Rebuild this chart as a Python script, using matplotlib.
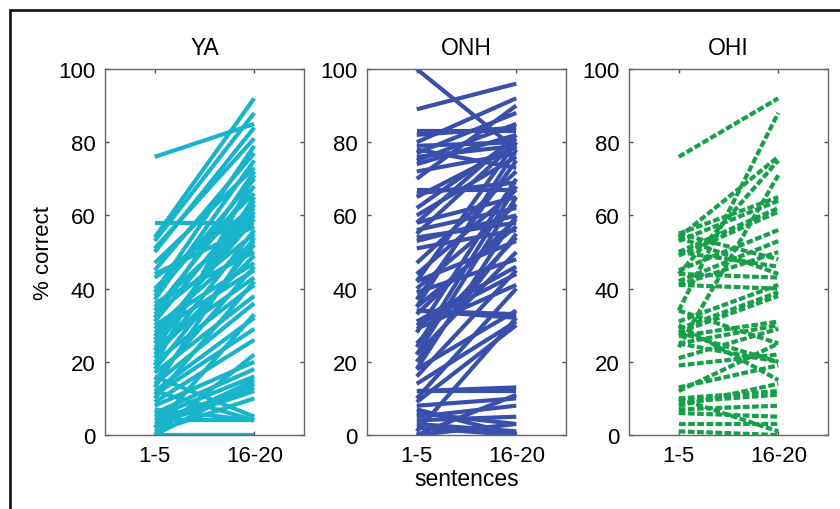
import matplotlib.pyplot as plt
from matplotlib.patches import Rectangle

plt.rcParams['font.family'] = ['Liberation Sans', 'DejaVu Sans']

groups = ['YA', 'ONH', 'OHI']
xticklabels = ['1-5', '16-20']

# % correct for sentences 1-5 (first) and 16-20 (last), one pair per listener
ya_first = [76, 58, 54, 53, 51, 50, 47, 45, 44, 43, 40, 38, 37, 36, 35, 34, 33, 31,
            30, 29, 28, 27, 25, 24, 22, 21, 20, 18, 17, 15, 14, 12, 11, 10, 9, 8,
            7, 6, 5, 4, 4, 3, 2, 2, 1, 0, 0, 0, 12, 16, 19, 26, 39, 32, 23, 13]
ya_last = [85, 58, 92, 88, 81, 84, 73, 77, 57, 62, 66, 70, 75, 50, 60, 68, 55, 64,
           47, 53, 45, 59, 63, 43, 49, 56, 41, 52, 38, 46, 36, 32, 29, 42, 26, 20,
           4, 18, 16, 13, 4, 12, 15, 33, 10, 0, 22, 14, 4, 5, 71, 61, 79, 72, 65, 54]

onh_first = [100, 89, 83, 82, 80, 79, 78, 77, 76, 75, 74, 72, 70, 67, 66, 62, 60, 58,
             56, 55, 54, 53, 51, 47, 44, 42, 40, 39, 35, 34, 34, 33, 31, 30, 29, 25,
             22, 20, 18, 14, 12, 12, 10, 9, 8, 6, 5, 4, 3, 2, 1, 0, 0, 7,
             22, 28, 35, 42, 18, 24, 58, 65, 37, 16]
onh_last = [78, 96, 83, 84, 92, 80, 73, 88, 79, 85, 82, 77, 90, 67, 69, 81, 76, 65,
            62, 80, 58, 60, 56, 72, 67, 53, 63, 48, 57, 33, 32, 59, 46, 44, 41, 54,
            50, 55, 34, 31, 13, 12, 40, 30, 10, 3, 8, 5, 1, 0, 32, 3, 11, 0,
            65, 70, 78, 80, 60, 68, 82, 79, 75, 45]

ohi_first = [76, 34, 54, 44, 24, 55, 53, 50, 49, 45, 42, 41, 55, 54, 50, 44, 41, 31,
             29, 28, 27, 25, 21, 19, 34, 28, 13, 12, 30, 10, 9, 8, 7, 6, 3, 1, 10, 25]
ohi_last = [92, 88, 76, 75, 71, 65, 64, 62, 61, 56, 53, 50, 48, 44, 46, 43, 40, 41,
            39, 38, 31, 30, 29, 22, 25, 20, 19, 25, 15, 12, 11, 14, 8, 5, 3, 0, 1, 20]

data = [(ya_first, ya_last), (onh_first, onh_last), (ohi_first, ohi_last)]
colors = ['#17b4cb', '#3a4eab', '#17a04a']
styles = ['-', '-', (0, (1.6, 0.6))]

fig = plt.figure(figsize=(8.4, 5.1), dpi=100)
lefts = [105, 367, 629]
axes = []
for i in range(3):
    ax = fig.add_axes([lefts[i] / 840, 1 - 436 / 510, 199 / 840, 366 / 510])
    first, last = data[i]
    for a, b in zip(first, last):
        ax.plot([1, 2], [a, b], color=colors[i], linestyle=styles[i], linewidth=3.0,
                solid_capstyle='butt')
    ax.set_xlim(0.5, 2.5)
    ax.set_ylim(0, 100)
    ax.set_xticks([1, 2])
    ax.set_xticklabels(xticklabels)
    ax.set_yticks(range(0, 101, 20))
    ax.tick_params(direction='in', length=3, width=1, color='#555555',
                   top=True, right=True, labelsize=16, pad=7)
    for s in ax.spines.values():
        s.set_color('#666666')
        s.set_linewidth(1)
    ax.set_title(groups[i], fontsize=16.5, pad=11)
    axes.append(ax)

axes[0].set_ylabel('% correct', fontsize=16, labelpad=3)
axes[1].set_xlabel('sentences', fontsize=16.5, labelpad=1)

fig.patches.append(Rectangle((10 / 840, -0.1), 1.0, 1.1 - 11 / 510,
                             transform=fig.transFigure, fill=False,
                             edgecolor='#1a1a1a', linewidth=2))

fig.savefig('out.png', dpi=100)
